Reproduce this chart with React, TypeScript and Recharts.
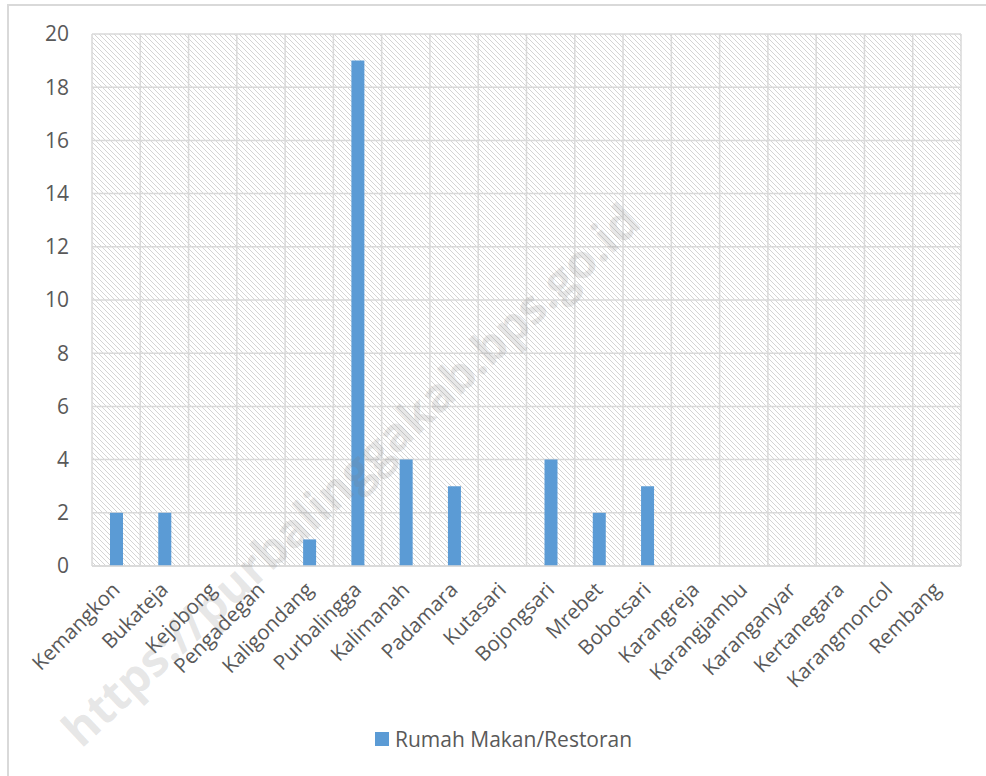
import React from 'react'
import {
  BarChart, Bar, CartesianGrid, XAxis, YAxis, Legend,
} from 'recharts'

const kecamatan = [
  'Kemangkon', 'Bukateja', 'Kejobong', 'Pengadegan', 'Kaligondang', 'Purbalingga',
  'Kalimanah', 'Padamara', 'Kutasari', 'Bojongsari', 'Mrebet', 'Bobotsari',
  'Karangreja', 'Karangjambu', 'Karanganyar', 'Kertanegara', 'Karangmoncol', 'Rembang',
]
const rumahMakan = [2, 2, 0, 0, 1, 19, 4, 3, 0, 4, 2, 3, 0, 0, 0, 0, 0, 0]
const yTicks = [0, 2, 4, 6, 8, 10, 12, 14, 16, 18, 20]
const seriesName = 'Rumah Makan/Restoran'

const data = kecamatan.map((name, i) => ({ name, value: rumahMakan[i] }))

const FONT = '"Open Sans", sans-serif'
const TEXT = '#595959'
const BLUE = '#5B9BD5'
const GRID = '#d9d9d9'

// rotated category label, end of text just under the category centre
const XTick = (props: any) => {
  const { x, y, payload } = props
  const ex = x + 5
  const ey = y + 25
  return (
    <text
      x={ex}
      y={ey}
      textAnchor="end"
      transform={`rotate(-45, ${ex}, ${ey})`}
      fontSize={20.5}
      fontFamily={FONT}
      fill={TEXT}
    >
      {payload.value}
    </text>
  )
}

const LegendContent = () => (
  <div style={{ display: 'flex', alignItems: 'center', fontFamily: FONT, fontSize: 21, color: TEXT }}>
    <span style={{ display: 'inline-block', width: 14, height: 14, background: BLUE, marginRight: 6 }} />
    <span>{seriesName}</span>
  </div>
)

export default function App() {
  return (
    <div style={{ position: 'absolute', left: 0, top: 0, width: 986, height: 776, overflow: 'hidden', background: '#fff' }}>
      <div style={{
        position: 'absolute', left: 7, top: 4, width: 1100, height: 900,
        border: `2px solid ${GRID}`, boxSizing: 'border-box',
      }} />
      <div style={{ position: 'absolute', left: 0, top: 0 }}>
        <BarChart
          width={986}
          height={776}
          data={data}
          margin={{ top: 34, right: 25, left: 0, bottom: 0 }}
        >
          <defs>
            <pattern id="hatch" width="5" height="5" patternUnits="userSpaceOnUse">
              <rect width="5" height="5" fill="#ffffff" />
              <path d="M-1,-1 L6,6 M-1,4 L1,6 M4,-1 L6,1" stroke="#cfcfcf" strokeWidth={0.9} />
            </pattern>
          </defs>
          <CartesianGrid
            fill="url(#hatch)"
            fillOpacity={1}
            stroke={GRID}
            strokeWidth={1.5}
            verticalCoordinatesGenerator={({ offset }: any) =>
              Array.from({ length: kecamatan.length + 1 }, (_, i) => offset.left + (i * offset.width) / kecamatan.length)
            }
          />
          <XAxis
            dataKey="name"
            interval={0}
            height={210}
            tickLine={false}
            tickSize={0}
            tickMargin={0}
            axisLine={{ stroke: GRID, strokeWidth: 1.5 }}
            tick={<XTick />}
          />
          <YAxis
            width={92}
            domain={[0, 20]}
            ticks={yTicks}
            interval={0}
            axisLine={false}
            tickLine={false}
            tickSize={0}
            tickMargin={23}
            tick={{ fontSize: 21, fontFamily: FONT, fill: TEXT }}
          />
          <Legend
            verticalAlign="middle"
            align="center"
            layout="horizontal"
            content={<LegendContent />}
            wrapperStyle={{ left: 375, top: 725, width: 320 }}
          />
          <Bar dataKey="value" name={seriesName} fill={BLUE} barSize={13} isAnimationActive={false} />
        </BarChart>
      </div>
      <div style={{
        position: 'absolute', left: 350, top: 474,
        transform: 'translate(-50%, -50%) rotate(-43deg)',
        fontFamily: FONT, fontWeight: 700, fontSize: 47,
        color: 'rgba(128,128,128,0.2)', whiteSpace: 'nowrap', pointerEvents: 'none',
      }}>
        https://purbalinggakab.bps.go.id
      </div>
    </div>
  )
}
